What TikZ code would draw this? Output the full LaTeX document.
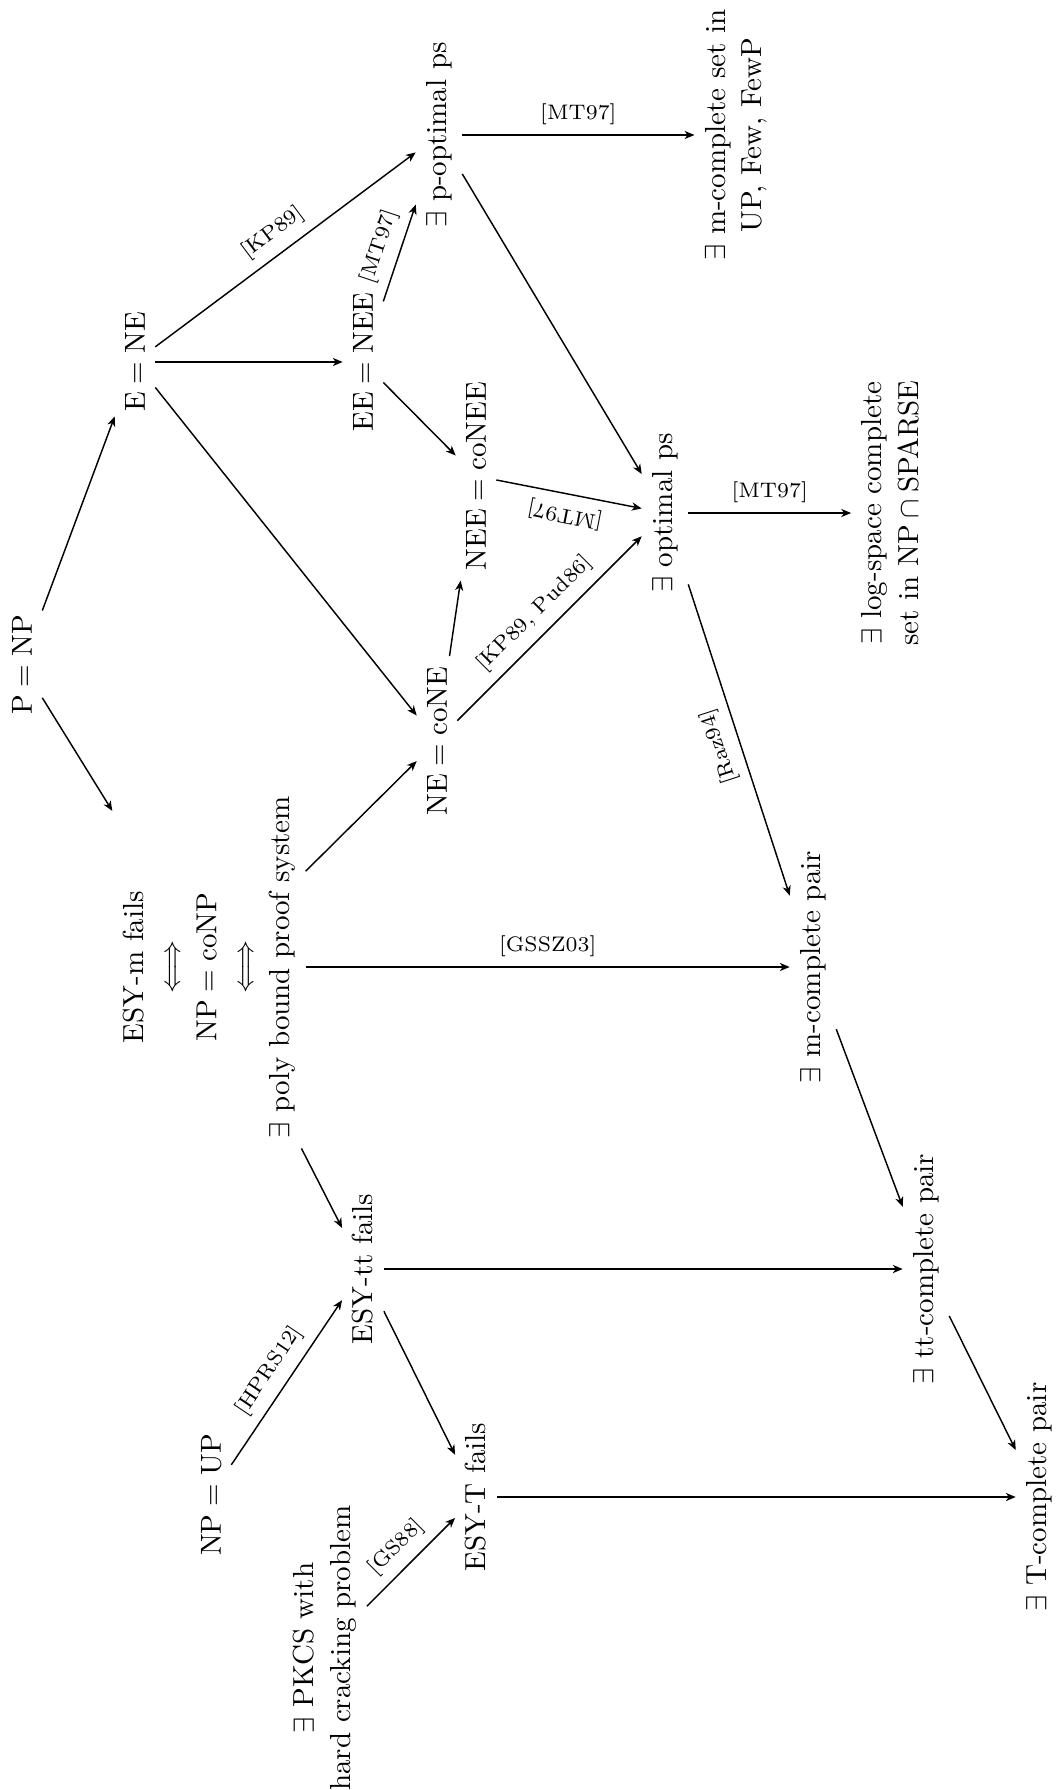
\documentclass[tikz,border=0pt]{standalone}
\usetikzlibrary{arrows.meta}
\begin{document}
\begin{tikzpicture}[x=0.3448pt,y=-0.3448pt,>={Stealth[length=3.4pt,width=2.8pt,inset=1pt]},
  line width=0.5pt,
  box/.style={rotate=90, font=\fontsize{10}{12.6}\selectfont, align=center},
  lab/.style={font=\fontsize{7.25}{8.7}\selectfont}]
\useasboundingbox (0,0) rectangle (1059,1790);
\node[box] (PNP) at (22,665) {$\mathrm{P}=\mathrm{NP}$};
\node[box] (ENE) at (135,362) {$\mathrm{E}=\mathrm{NE}$};
\node[box] (EENEE) at (363,362) {$\mathrm{EE}=\mathrm{NEE}$};
\node[box] (popt) at (439,135) {$\exists$ p-optimal ps};
\node[box] (mset) at (736,135) {$\exists$ m-complete set in\\UP, Few, FewP};
\node[box] (NEENEE) at (476,476) {$\mathrm{NEE}=\mathrm{coNEE}$};
\node[box] (NEcoNE) at (437,741) {$\mathrm{NE}=\mathrm{coNE}$};
\node[box] (opt) at (665,513) {$\exists$ optimal ps};
\node[box] (logsp) at (890,513) {$\exists$ log-space complete\\set in $\mathrm{NP}\cap\mathrm{SPARSE}$};
\node[box] (stack) at (209,967) {ESY-m fails\\$\Longleftrightarrow$\\$\mathrm{NP}=\mathrm{coNP}$\\$\Longleftrightarrow$\\$\exists$ poly bound proof system};
\node[box] (mpair) at (813,967) {$\exists$ m-complete pair};
\node[box] (ESYtt) at (363,1269) {ESY-tt fails};
\node[box] (ttpair) at (926,1269) {$\exists$ tt-complete pair};
\node[box] (NPUP) at (211,1495) {$\mathrm{NP}=\mathrm{UP}$};
\node[box] (ESYT) at (476,1497) {ESY-T fails};
\node[box] (Tpair) at (1039,1497) {$\exists$ T-complete pair};
\node[box] (PKCS) at (325,1648) {$\exists$ PKCS with\\hard cracking problem};

\draw[->] (PNP) -- (ENE);
\draw[->] (PNP) -- (stack);
\draw[->] (ENE) -- node[lab, sloped, above] {[KP89]} (popt);
\draw[->] (ENE) -- (EENEE);
\draw[->] (ENE) -- (NEcoNE);
\draw[->] (EENEE) -- node[lab, sloped, above] {[MT97]} (popt);
\draw[->] (EENEE) -- (NEENEE);
\draw[->] (popt) -- node[lab, above] {[MT97]} (mset);
\draw[->] (popt) -- (opt);
\draw[<-] (opt) -- node[lab, sloped, allow upside down, above] {[MT97]} (NEENEE);
\draw[->] (NEcoNE) -- (NEENEE);
\draw[->] (NEcoNE) -- node[lab, sloped, above] {[KP89, Pud86]} (opt);
\draw[->] (opt) -- node[lab, above] {[MT97]} (logsp);
\draw[<-] (mpair) -- node[lab, sloped, allow upside down, above] {[Raz94]} (opt);
\draw[->] (stack) -- (NEcoNE);
\draw[->] (stack) -- node[lab, above] {[GSSZ03]} (mpair);
\draw[->] (stack) -- (ESYtt);
\draw[->] (mpair) -- (ttpair);
\draw[->] (ESYtt) -- (ttpair);
\draw[->] (ESYtt) -- (ESYT);
\draw[->] (NPUP) -- node[lab, sloped, above] {[HPRS12]} (ESYtt);
\draw[->] (PKCS) -- node[lab, sloped, above] {[GS88]} (ESYT);
\draw[->] (ESYT) -- (Tpair);
\draw[->] (ttpair) -- (Tpair);
\end{tikzpicture}
\end{document}
